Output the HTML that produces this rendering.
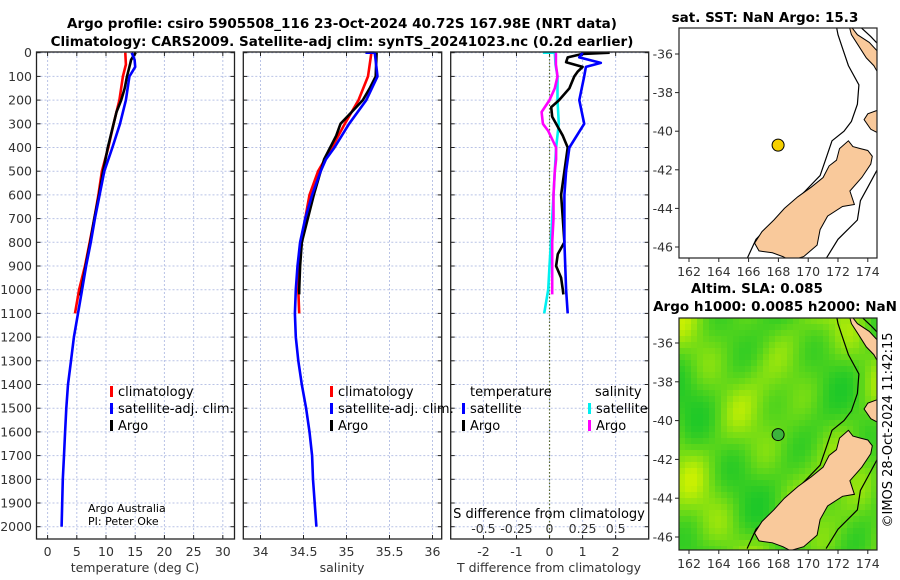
<!DOCTYPE html>
<html><head><meta charset="utf-8"><style>
body{margin:0;background:#fff}
svg{display:block;font-family:"DejaVu Sans","Liberation Sans",sans-serif}
.t{font-size:12.5px;fill:#333}
.b{font-weight:bold;font-size:13.5px;fill:#000}
.lg{font-size:13px;fill:#000}
</style></head><body>
<svg id="root" width="900" height="580" viewBox="0 0 900 580" xmlns="http://www.w3.org/2000/svg">
<rect width="900" height="580" fill="#fff"/>
<text class="b" x="342" y="28" text-anchor="middle">Argo profile: csiro 5905508_116 23-Oct-2024 40.72S 167.98E (NRT data)</text>
<text class="b" x="342" y="46" text-anchor="middle">Climatology: CARS2009. Satellite-adj clim: synTS_20241023.nc (0.2d earlier)</text>
<g id="panels"></g>
<g id="maps"></g>
<text class="t" x="0" y="0" transform="translate(892,430) rotate(-90)" text-anchor="middle" style="font-size:13px;fill:#000">©IMOS 28-Oct-2024 11:42:15</text>
</svg>
<script>
// ---------- data ----------
const depthTicks=[0,100,200,300,400,500,600,700,800,900,1000,1100,1200,1300,1400,1500,1600,1700,1800,1900,2000];
const tempTicks=[0,5,10,15,20,25,30];
const salTicks=[34,34.5,35,35.5,36];
const salTickLabels=["34","34.5","35","35.5","36"];
const tdTicks=[-2,-1,0,1,2];
const tdTickLabels=["-2","-1","0","1","2"];
const sdTicks=[-0.5,-0.25,0,0.25,0.5];
const sdTickLabels=["-0.5","-0.25","0","0.25","0.5"];

const climTempDepth=[0,50,100,200,300,400,500,600,700,800,900,1000,1100];
const climTemp=[13.3,13.4,12.9,12.3,11.3,10.4,9.3,8.7,8.0,7.2,6.4,5.4,4.7];
const argoTempDepth=[0,10,30,50,100,150,200,250,300,400,500,600,700,800,900,1000,1025];
const argoTemp=[15.1,14.8,14.3,14.1,13.6,13.2,12.6,11.8,11.3,10.3,9.5,8.8,8.0,7.3,6.5,5.8,5.6];
const satTempDepth=[0,30,60,100,200,300,400,500,600,700,800,900,1000,1100,1200,1300,1400,1500,1600,1700,1800,1900,2000];
const satTemp=[14.4,14.9,15.0,14.0,13.4,12.4,11.1,9.7,8.9,8.1,7.4,6.6,5.9,5.2,4.5,4.0,3.5,3.2,3.0,2.8,2.6,2.5,2.4];

const climSalDepth=[0,100,200,300,400,500,600,700,800,900,1000,1100];
const climSal=[35.29,35.25,35.14,34.98,34.83,34.67,34.57,34.52,34.48,34.45,34.44,34.45];
const argoSalDepth=[0,100,150,200,250,300,350,400,450,500,600,700,800,900,1000,1020];
const argoSal=[35.35,35.34,35.27,35.19,35.06,34.93,34.88,34.81,34.74,34.70,34.62,34.55,34.48,34.46,34.45,34.45];
const satSalDepth=[0,0,5,100,200,300,400,450,500,600,700,800,900,1000,1100,1200,1300,1400,1500,1600,1700,1800,1900,2000];
const satSal=[35.22,35.32,35.33,35.36,35.23,35.03,34.86,34.76,34.70,34.60,34.52,34.46,34.43,34.41,34.40,34.41,34.44,34.48,34.53,34.57,34.60,34.61,34.63,34.65];

const argoTdDepth=[0,5,20,40,60,80,100,150,200,230,270,300,350,400,500,600,700,800,850,900,950,1000,1020];
const argoTd=[1.82,1.0,0.55,0.5,1.0,0.85,0.75,0.6,0.29,0.05,0.08,0.2,0.4,0.55,0.45,0.35,0.4,0.45,0.25,0.2,0.35,0.4,0.42];
const satTdDepth=[0,20,43,60,100,200,300,400,500,600,800,1000,1100];
const satTd=[1.0,0.9,1.55,1.1,1.05,0.9,1.05,0.6,0.5,0.45,0.45,0.5,0.55];
const argoSdDepth=[0,50,100,150,200,250,300,330,400,450,500,600,700,800,900,1000,1020];
const argoSd=[0.048,0.048,0.06,0.04,0.0,-0.06,-0.05,-0.01,0.05,0.05,0.04,0.03,0.03,0.02,0.02,0.02,0.02];
const satSdDepth=[0,0,50,100,200,300,400,500,600,700,800,900,1000,1100];
const satSd=[-0.05,0.04,0.045,0.06,0.06,0.07,0.05,0.04,0.03,0.02,0.01,0.0,-0.01,-0.04];

// ---------- helpers ----------
const NS="http://www.w3.org/2000/svg";
function mk(tag,attrs,parent){const e=document.createElementNS(NS,tag);for(const k in attrs)e.setAttribute(k,attrs[k]);parent.appendChild(e);return e;}
const TOP=52,BOT=539;
const yD=d=>52.7+d*0.237;
const P=document.getElementById('panels');

function panel(name,x0,x1,xmin,xmax){
  const g=mk('g',{},P);
  
  
  const sx=v=>x0+(v-xmin)/(xmax-xmin)*(x1-x0);
  return {g,sx,x0,x1};
}
function grid(p,xt){
  depthTicks.forEach(d=>{const l=mk('line',{x1:p.x0,x2:p.x1,y1:yD(d),y2:yD(d),stroke:'#b9c3e6','stroke-width':1,'stroke-dasharray':'2,2'},p.g);
    
    mk('line',{x1:p.x0,x2:p.x0+4,y1:yD(d),y2:yD(d),stroke:'#222'},p.g);mk('line',{x1:p.x1-4,x2:p.x1,y1:yD(d),y2:yD(d),stroke:'#222'},p.g);});
  xt.forEach(v=>{const l=mk('line',{x1:p.sx(v),x2:p.sx(v),y1:TOP,y2:BOT,stroke:'#b9c3e6','stroke-width':1,'stroke-dasharray':'2,2'},p.g);
    
    mk('line',{x1:p.sx(v),x2:p.sx(v),y1:BOT-4,y2:BOT,stroke:'#222'},p.g);mk('line',{x1:p.sx(v),x2:p.sx(v),y1:TOP,y2:TOP+4,stroke:'#222'},p.g);});
}
function frame(p){const r=mk('rect',{x:p.x0,y:TOP,width:p.x1-p.x0,height:BOT-TOP,fill:'none',stroke:'#222','stroke-width':1.3},p.g);
  }
function series(p,depths,vals,color,name,sx){
  const f=sx||p.sx;
  const pts=depths.map((d,i)=>f(vals[i]).toFixed(1)+','+yD(d).toFixed(1)).join(' ');
  const l=mk('polyline',{points:pts,fill:'none',stroke:color,'stroke-width':2.6,'stroke-linejoin':'round'},p.g);
  
}
function text(parent,x,y,s,cls,anchor,name){const t=mk('text',{x,y,class:cls,'text-anchor':anchor||'start'},parent);t.textContent=s;
  return t;}
function legend(parent,x,y,color,label,name){
  const r=mk('rect',{x:x,y:y-10,width:3,height:11,fill:color},parent);
  
  text(parent,x+8,y,label,'lg','start',name);
}

// panel 1 temperature
const p1=panel('temperature-panel',36.5,234.5,-1.9,32.0);
grid(p1,tempTicks);
series(p1,climTempDepth,climTemp,'#f00','climatology-temp-line');
series(p1,argoTempDepth,argoTemp,'#000','argo-temp-line');
series(p1,satTempDepth,satTemp,'#00f','sat-adj-temp-line');
frame(p1);
depthTicks.forEach(d=>text(p1.g,32,yD(d)+4.5,String(d),'t','end','depth-tick-label'));
tempTicks.forEach(v=>text(p1.g,p1.sx(v),556,String(v),'t','middle','temp-tick-label'));
text(p1.g,135,572,'temperature (deg C)','t','middle','temp-axis-title');
legend(p1.g,110,396,'#f00','climatology','legend-climatology');
legend(p1.g,110,413,'#00f','satellite-adj. clim.','legend-satellite-adj');
legend(p1.g,110,430,'#000','Argo','legend-argo');
text(p1.g,88,512,'Argo Australia','t','start','credit-argo-australia').setAttribute('style','font-size:11px;fill:#000');
text(p1.g,88,525,'PI: Peter Oke','t','start','credit-pi').setAttribute('style','font-size:11px;fill:#000');

// panel 2 salinity
const p2=panel('salinity-panel',243.3,441.7,33.80,36.107);
grid(p2,salTicks);
series(p2,climSalDepth,climSal,'#f00','climatology-sal-line');
series(p2,argoSalDepth,argoSal,'#000','argo-sal-line');
series(p2,satSalDepth,satSal,'#00f','sat-adj-sal-line');
frame(p2);
salTicks.forEach((v,i)=>text(p2.g,p2.sx(v),556,salTickLabels[i],'t','middle','sal-tick-label'));
text(p2.g,342,572,'salinity','t','middle','sal-axis-title');
legend(p2.g,330,396,'#f00','climatology','legend-climatology-2');
legend(p2.g,330,413,'#00f','satellite-adj. clim.','legend-satellite-adj-2');
legend(p2.g,330,430,'#000','Argo','legend-argo-2');

// panel 3 differences
const p3=panel('difference-panel',450.7,648.7,-2.99,3.0);
const sxS=v=>p3.sx(v*4);
grid(p3,tdTicks);
const z=mk('line',{x1:p3.sx(0),x2:p3.sx(0),y1:TOP,y2:BOT,stroke:'#5a6a2a','stroke-width':1.2,'stroke-dasharray':'1.5,2'},p3.g);

series(p3,satSdDepth,satSd,'#00f0f0','sat-sal-diff-line',sxS);
series(p3,argoSdDepth,argoSd,'#f0f','argo-sal-diff-line',sxS);
series(p3,argoTdDepth,argoTd,'#000','argo-temp-diff-line');
series(p3,satTdDepth,satTd,'#00f','sat-temp-diff-line');
frame(p3);
tdTicks.forEach((v,i)=>text(p3.g,p3.sx(v),556,tdTickLabels[i],'t','middle','tdiff-tick-label'));
sdTicks.forEach((v,i)=>text(p3.g,sxS(v),533,sdTickLabels[i],'t','middle','sdiff-tick-label'));
text(p3.g,549,518,'S difference from climatology','t','middle','sdiff-axis-title').setAttribute('style','font-size:13px;fill:#000');
text(p3.g,549,572,'T difference from climatology','t','middle','tdiff-axis-title');
text(p3.g,470,396,'temperature','lg','start','legend-temperature-heading');
text(p3.g,595,396,'salinity','lg','start','legend-salinity-heading');
legend(p3.g,462,413,'#00f','satellite','legend-temp-satellite');
legend(p3.g,462,430,'#000','Argo','legend-temp-argo');
legend(p3.g,588,413,'#00f0f0','satellite','legend-sal-satellite');
legend(p3.g,588,430,'#f0f','Argo','legend-sal-argo');

// ---------- maps ----------
const M=document.getElementById('maps');
const southIsland=[[166.4,-45.8],[166.9,-45.2],[167.7,-44.6],[168.4,-44.0],[169.3,-43.4],[170.2,-42.9],[171.0,-42.4],[171.4,-41.8],[171.9,-41.5],[172.1,-40.9],[172.7,-40.5],[173.0,-40.8],[173.5,-40.9],[174.0,-41.0],[174.3,-41.3],[174.2,-41.7],[173.6,-42.4],[172.8,-43.1],[173.1,-43.8],[172.3,-43.9],[171.3,-44.4],[170.8,-45.1],[170.6,-45.9],[169.7,-46.5],[168.8,-46.7],[168.3,-46.5],[167.6,-46.3],[166.7,-46.2]];
const northland=[[172.7,-34.4],[173.3,-35.0],[174.1,-35.4],[174.7,-35.9],[174.7,-37.0],[174.4,-36.6],[173.9,-36.2],[173.4,-35.6],[172.9,-35.0]];
const taranaki=[[174.7,-38.9],[174.0,-39.1],[173.75,-39.4],[174.2,-39.9],[174.7,-40.1]];
const iso1=[[165.9,-46.6],[166.5,-45.6],[167.5,-44.8],[168.5,-44.1],[169.8,-43.1],[170.8,-42.3],[171.2,-41.4],[171.6,-40.5],[172.4,-40.0],[172.9,-39.5],[173.3,-38.6],[173.4,-37.6],[172.7,-36.6],[172.3,-35.7],[172.0,-35.0],[171.9,-34.6]];
const iso2=[[174.7,-41.9],[174.0,-42.9],[173.5,-43.6],[173.3,-44.6],[172.0,-45.6],[171.2,-46.6]];
const iso3=[[173.5,-34.6],[174.2,-35.1],[174.7,-35.5]];
function map(name,x0,x1,y0,y1,yLat36,yLat46,title,titleY,field){
  const g=mk('g',{},M);
  
  const lx=lon=>689+(lon-162)*14.9, ly=lat=>yLat36+(-36-lat)*(yLat46-yLat36)/10;
  const cid='clip-'+name;
  const cp=mk('clipPath',{id:cid},g);mk('rect',{x:x0,y:y0,width:x1-x0,height:y1-y0},cp);
  const inner=mk('g',{'clip-path':'url(#'+cid+')'},g);
  mk('rect',{x:x0,y:y0,width:x1-x0,height:y1-y0,fill:'#fff'},inner);
  if(field){
    for(let x=x0;x<x1;x+=6)for(let y=y0;y<y1;y+=6){
      const u=(x-x0)/200,v=(y-y0)/230;
      const s=Math.sin(u*9+1.3)*Math.cos(v*8+0.4)+0.6*Math.sin(u*15-v*11+2)+0.4*Math.cos(u*21+v*17);
      let t=Math.max(0,Math.min(1,(s+1.8)/3.6));
      t=Math.pow(t,1.4);
      const r=Math.round(30+t*170),gg=Math.round(200+t*40),b=Math.round(40-t*38);
      mk('rect',{x,y,width:6.3,height:6.3,fill:`rgb(${r},${gg},${b})`},inner);
    }
  }
  const path=pts=>pts.map((p,i)=>(i?'L':'M')+lx(p[0]).toFixed(1)+','+ly(p[1]).toFixed(1)).join('');
  [iso1,iso2,iso3].forEach(c=>{const l=mk('path',{d:path(c),fill:'none',stroke:'#000','stroke-width':1.2},inner);});
  [southIsland,northland,taranaki].forEach(c=>{const l=mk('path',{d:path(c)+'Z',fill:'#f9c99b',stroke:'#000','stroke-width':1},inner);});
  const c=mk('circle',{cx:lx(167.98),cy:ly(-40.72),r:6,fill:field?'#3cb43c':'#f5d000',stroke:'#000','stroke-width':1},inner);
  
  const fr=mk('rect',{x:x0,y:y0,width:x1-x0,height:y1-y0,fill:'none',stroke:'#222','stroke-width':1.2},g);
  
  [-36,-38,-40,-42,-44,-46].forEach(lat=>{mk('line',{x1:x0-4,x2:x0,y1:ly(lat),y2:ly(lat),stroke:'#222'},g);
    text(g,x0-6,ly(lat)+4.5,String(lat),'t','end','lat-tick-label');});
  [162,164,166,168,170,172,174].forEach(lon=>{mk('line',{x1:lx(lon),x2:lx(lon),y1:y1,y2:y1+4,stroke:'#222'},g);
    text(g,lx(lon),y1+18,String(lon),'t','middle','lon-tick-label');});
  title.forEach((s,i)=>text(g,titleY[i][0],titleY[i][1],s,'b','middle','map-title'));
}
map('sst-map',679,877,28,258,54,247,['sat. SST: NaN Argo: 15.3'],[[765,22]],false);
map('sla-map',679,877,318,550,343,537,['Altim. SLA: 0.085','Argo h1000: 0.0085 h2000: NaN'],[[757,293],[775,311]],true);
</script>
</body></html>
